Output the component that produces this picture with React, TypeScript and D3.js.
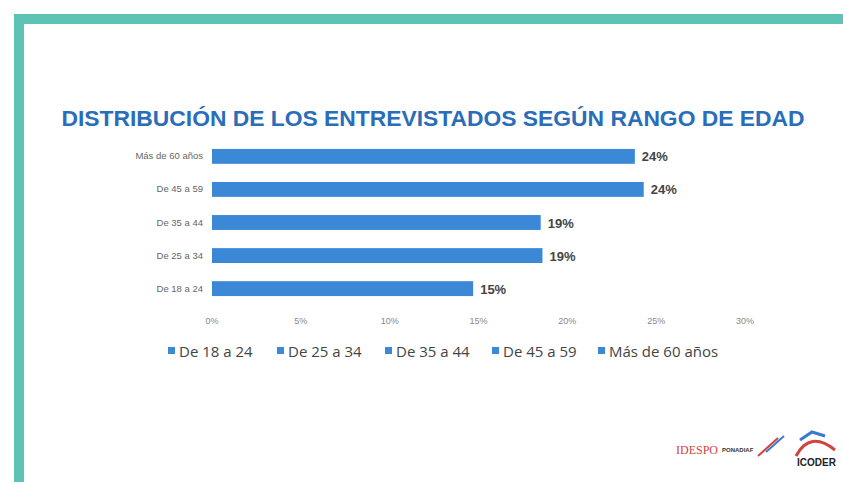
import React from 'react';
import * as d3 from 'd3';

const categories = ['Más de 60 años', 'De 45 a 59', 'De 35 a 44', 'De 25 a 34', 'De 18 a 24'];
const values = [23.8, 24.3, 18.5, 18.6, 14.7];
const valueLabels = ['24%', '24%', '19%', '19%', '15%'];
const ticks = [0, 5, 10, 15, 20, 25, 30];
const legendItems = ['De 18 a 24', 'De 25 a 34', 'De 35 a 44', 'De 45 a 59', 'Más de 60 años'];
const legendX = [168, 277, 385, 492, 598];

const W = 843;
const H = 482;
const barColor = '#3b88d6';
const titleColor = '#2a6db8';

export default function App() {
  const x = d3.scaleLinear().domain([0, 30]).range([212, 745]);
  const y = d3.scaleBand().domain(categories).range([140, 305]).paddingInner(0.55).paddingOuter(0.27);

  return (
    <svg width={W} height={H} style={{ position: 'absolute', left: 0, top: 0 }}>
      <rect x={0} y={0} width={W} height={H} fill="#fff" />
      {/* frame */}
      <rect x={14} y={14} width={W - 14} height={10} fill="#5cc3b5" />
      <rect x={14} y={14} width={10} height={H - 14} fill="#5cc3b5" />

      <text x={433} y={126} textAnchor="middle" fontFamily="Liberation Sans, Arial, sans-serif"
        fontWeight="bold" fontSize={22} fill={titleColor} textLength={743} lengthAdjust="spacingAndGlyphs">
        DISTRIBUCIÓN DE LOS ENTREVISTADOS SEGÚN RANGO DE EDAD
      </text>

      {categories.map((c, i) => (
        <g key={c}>
          <text x={203} y={(y(c) as number) + y.bandwidth() / 2 + 3} textAnchor="end"
            fontFamily="Liberation Sans, sans-serif" fontSize={9.5} fill="#666">{c}</text>
          <rect x={x(0)} y={y(c)} width={x(values[i]) - x(0)} height={y.bandwidth()} fill={barColor} />
          <text x={x(values[i]) + 7} y={(y(c) as number) + y.bandwidth() / 2 + 5}
            fontFamily="Liberation Sans, sans-serif" fontWeight="bold" fontSize={13} fill="#444">{valueLabels[i]}</text>
        </g>
      ))}

      {ticks.map(t => (
        <text key={t} x={x(t)} y={324} textAnchor="middle" fontFamily="Liberation Sans, sans-serif"
          fontSize={9} fill="#888">{t}%</text>
      ))}

      {legendItems.map((l, i) => (
        <g key={l}>
          <rect x={legendX[i]} y={347} width={7} height={7} fill={barColor} />
          <text x={legendX[i] + 11} y={357} fontFamily="Open Sans, sans-serif" fontSize={15} fill="#444">{l}</text>
        </g>
      ))}

      {/* logos */}
      <text x={676} y={454} fontFamily="Liberation Serif, serif" fontSize={12} fill="#d0443e">IDESPO</text>
      <text x={722} y={452} fontFamily="Liberation Sans, sans-serif" fontWeight="bold" fontSize={6} fill="#333">PONADIAF</text>
      <path d="M758 456 L778 438" stroke="#d0443e" strokeWidth={2} />
      <path d="M766 452 L784 436" stroke="#3a7bd0" strokeWidth={2} />
      <path d="M796 456 Q810 430 835 450" stroke="#d0443e" strokeWidth={3} fill="none" />
      <path d="M800 440 L812 432 L825 436" stroke="#3a7bd0" strokeWidth={3} fill="none" />
      <text x={797} y={466} fontFamily="Liberation Sans, sans-serif" fontWeight="bold" fontSize={10} fill="#222">ICODER</text>
    </svg>
  );
}
